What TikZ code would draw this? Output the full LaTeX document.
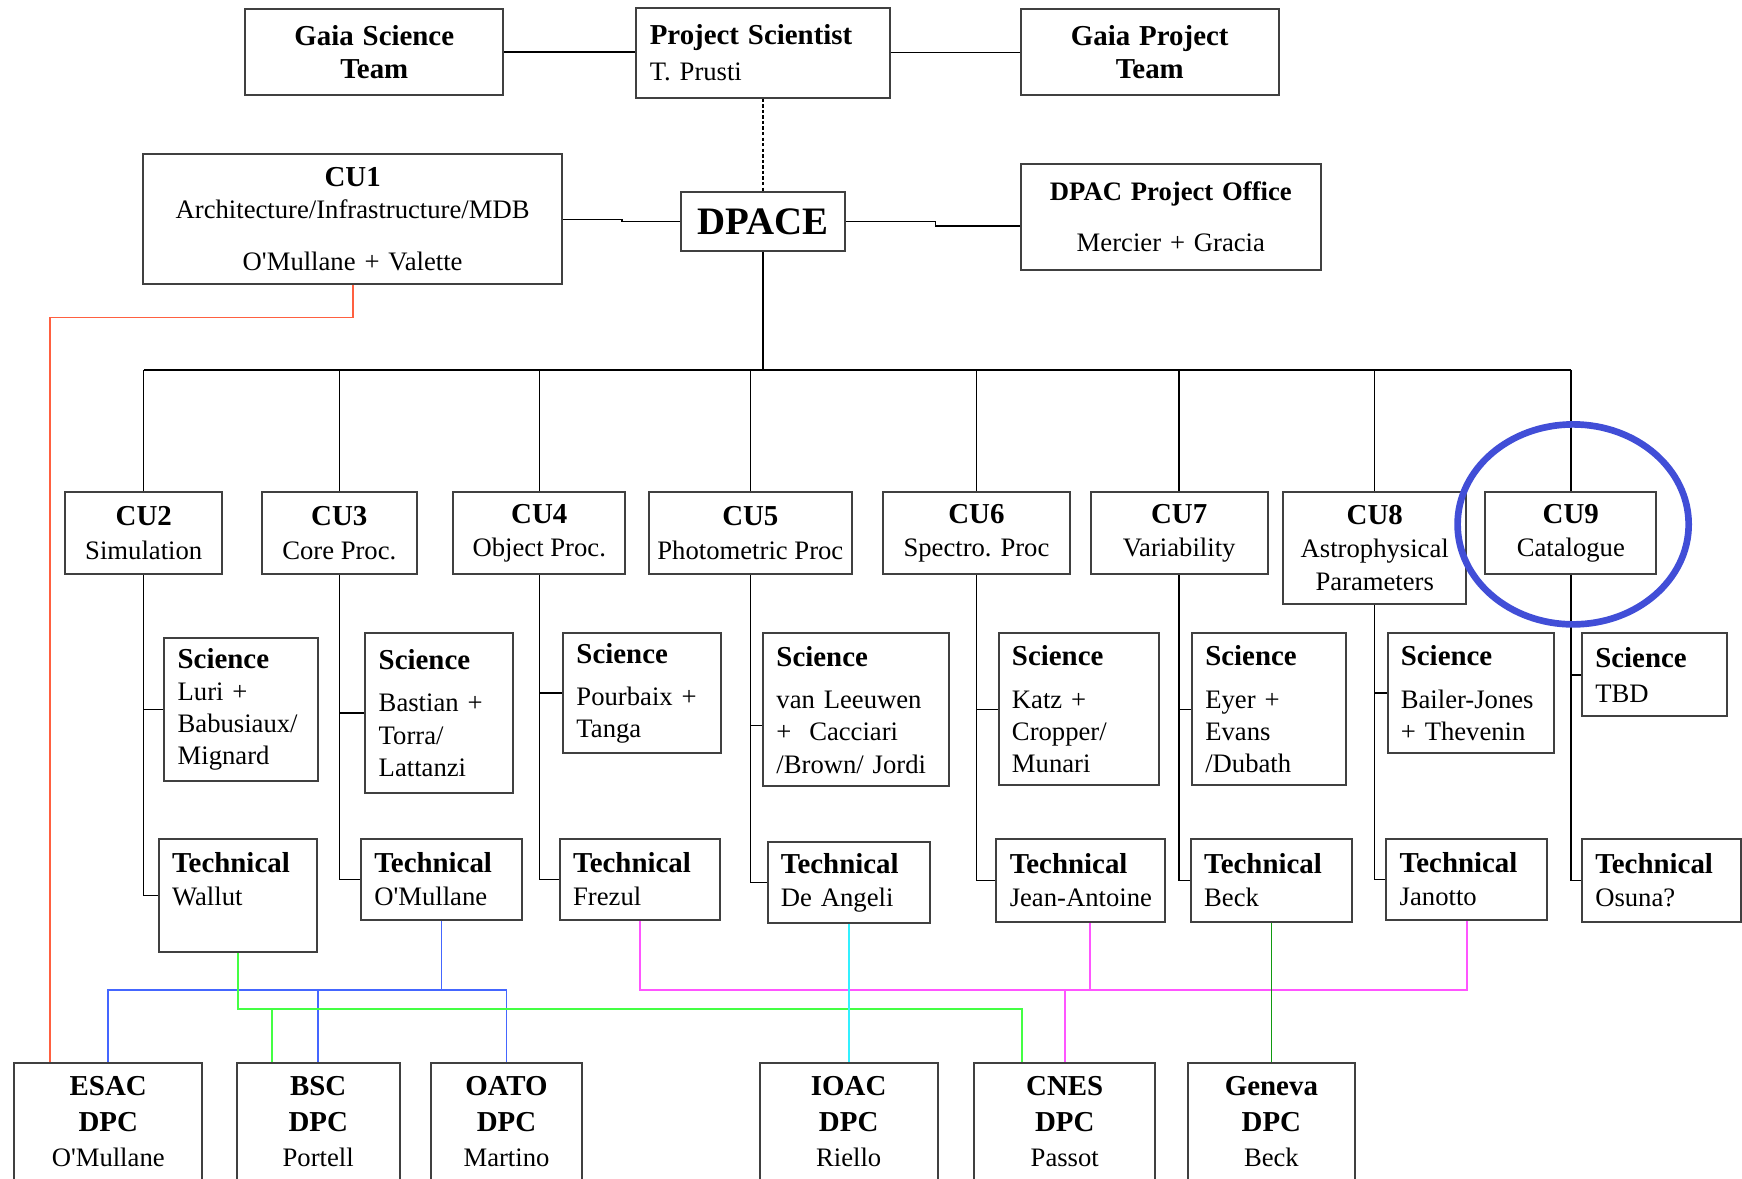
\documentclass[tikz,border=0pt]{standalone}
\usepackage{fontspec}
\setmainfont{Liberation Serif}

\definecolor{redline}{RGB}{255,96,64}
\definecolor{blueline}{RGB}{68,102,255}
\definecolor{greenline}{RGB}{68,255,68}
\definecolor{magline}{RGB}{255,85,255}
\definecolor{cyanline}{RGB}{51,240,255}
\definecolor{dkgreen}{RGB}{17,153,17}
\definecolor{ringblue}{RGB}{65,78,215}

\newcommand{\hdr}[1]{{\fontsize{26}{30}\selectfont\bfseries #1}}

\begin{document}
\begin{tikzpicture}[x=1pt, y=-1pt,
    every node/.style={font=\fontsize{24}{29}\selectfont},
    box/.style={draw=black!75, line width=1.8pt, anchor=north west, inner xsep=12pt, inner ysep=4pt, align=left},
    cbox/.style={box, align=center},
    cubox/.style={draw=black!75, line width=1.8pt, anchor=north west, inner xsep=3pt, inner ysep=4pt, align=center, minimum height=74pt, font=\fontsize{24}{30}\selectfont},
    dpcbox/.style={draw=black!75, line width=1.8pt, anchor=north west, inner xsep=3pt, inner ysep=12pt, align=center, text depth=40pt, font=\fontsize{24}{32}\selectfont},
    link/.style={line width=1.3pt},
    wire/.style={line width=1.6pt}]
    \useasboundingbox (0,0) rectangle (1568,1061);
    \clip (0,0) rectangle (1568,1061);

    % --- TOP: science team, project scientist, project team ---
    \node[cbox, text width=208pt, minimum height=78pt] (gst) at (220,7) {\hdr{Gaia Science}\\\hdr{Team}};
    \node[box, text width=204pt, minimum height=81pt] (ps) at (572,6) {\hdr{Project Scientist}\\[3pt]T. Prusti};
    \node[cbox, text width=208pt, minimum height=78pt] (gpt) at (918,7) {\hdr{Gaia Project}\\\hdr{Team}};
    \draw[link] (gst.east) -- (gst.east -| ps.west);
    \draw[link] (ps.east) -- (ps.east -| gpt.west);

    % --- DPACE row ---
    \node[cbox, text width=353pt, minimum height=117pt] (cu1) at (128,138) {\hdr{CU1}\\Architecture/Infrastructure/MDB\\[18pt]O\textquotesingle Mullane + Valette};
    \node[draw=black!75, line width=1.8pt, anchor=north west, minimum width=148pt, minimum height=53pt, inner sep=2pt, font=\fontsize{35}{40}\selectfont\bfseries] (dpace) at (612,172) {DPACE};
    \node[cbox, text width=246pt, minimum height=95pt] (dpo) at (918,147) {{\bfseries DPAC Project Office}\\[17pt]Mercier + Gracia};
    \coordinate (dpo-in) at ([yshift=-8pt]dpo.west);
    \draw[link, dash pattern=on 3pt off 2pt] (ps.south) -- (dpace.north);
    \draw[link] (cu1.east) -- ++(53,0) |- (dpace.west);
    \draw[link] (dpace.east) -- ++(80,0) |- (dpo-in);

    % --- coordination units ---
    \node[cubox, minimum width=141pt] (cu2) at (58,442) {\hdr{CU2}\\Simulation};
    \node[cubox, minimum width=139pt] (cu3) at (235,442) {\hdr{CU3}\\Core Proc.};
    \node[cubox, minimum width=155pt] (cu4) at (407,442) {\hdr{CU4}\\Object Proc.};
    \node[cubox, minimum width=183pt] (cu5) at (583,442) {\hdr{CU5}\\Photometric Proc};
    \node[cubox, minimum width=168pt] (cu6) at (794,442) {\hdr{CU6}\\Spectro. Proc};
    \node[cubox, minimum width=159pt] (cu7) at (981,442) {\hdr{CU7}\\Variability};
    \node[cubox, minimum width=165pt, minimum height=101pt] (cu8) at (1154,442) {\hdr{CU8}\\Astrophysical\\Parameters};
    \node[cubox, minimum width=154pt] (cu9) at (1336,442) {\hdr{CU9}\\Catalogue};

    \coordinate (bus) at (0,333);
    \draw[link] (dpace.south) -- (dpace.south |- bus);
    \draw[link] (cu2.north |- bus) -- (cu9.north |- bus);
    \foreach \i in {2,...,9} \draw[link] (cu\i.north |- bus) -- (cu\i.north);

    % --- science leads ---
    \node[box, text width=114pt, minimum height=129pt] (s2) at (147,573) {\hdr{Science}\\Luri +\\Babusiaux/\\Mignard};
    \node[box, text width=109pt, minimum height=144pt] (s3) at (328,569) {\hdr{Science}\\[9pt]Bastian +\\Torra/\\Lattanzi};
    \node[box, text width=118pt, minimum height=108pt] (s4) at (506,569) {\hdr{Science}\\[9pt]Pourbaix +\\Tanga};
    \node[box, text width=143pt, minimum height=138pt] (s5) at (686,569) {\hdr{Science}\\[9pt]van Leeuwen\\+\ \ Cacciari\\/Brown/ Jordi};
    \node[box, text width=120pt, minimum height=137pt] (s6) at (898,569) {\hdr{Science}\\[9pt]Katz +\\Cropper/\\Munari};
    \node[box, text width=115pt, minimum height=137pt] (s7) at (1072,569) {\hdr{Science}\\[9pt]Eyer +\\Evans\\/Dubath};
    \node[box, text width=126pt, minimum height=108pt] (s8) at (1248,569) {\hdr{Science}\\[9pt]\mbox{Bailer-Jones}\\+ Thevenin};
    \node[box, text width=107pt, minimum height=75pt] (s9) at (1423,569) {\hdr{Science}\\[3pt]TBD};

    % --- technical leads ---
    \node[box, text width=118pt, minimum height=102pt] (t2) at (142,754) {\hdr{Technical}\\[1pt]Wallut\\\mbox{}};
    \node[box, text width=121pt, minimum height=73pt] (t3) at (324,754) {\hdr{Technical}\\[1pt]O\textquotesingle Mullane};
    \node[box, text width=120pt, minimum height=73pt] (t4) at (503,754) {\hdr{Technical}\\[1pt]Frezul};
    \node[box, text width=122pt, minimum height=73pt] (t5) at (690,757) {\hdr{Technical}\\[1pt]De Angeli};
    \node[box, text width=128pt, minimum height=75pt] (t6) at (896,754) {\hdr{Technical}\\[1pt]\mbox{Jean-Antoine}};
    \node[box, text width=121pt, minimum height=75pt] (t7) at (1071,754) {\hdr{Technical}\\[1pt]Beck};
    \node[box, text width=121pt, minimum height=73pt] (t8) at (1247,754) {\hdr{Technical}\\[1pt]Janotto};
    \node[box, text width=119pt, minimum height=75pt] (t9) at (1423,754) {\hdr{Technical}\\[1pt]Osuna?};

    \coordinate (s5-in) at ([yshift=-14pt]s5.west);
    \foreach \i in {2,...,9} \draw[link] (cu\i.south) |- (t\i.west);
    \foreach \i in {2,3,4,6,7,8,9} \draw[link] (cu\i.south |- s\i.west) -- (s\i.west);
    \draw[link] (cu5.south |- s5-in) -- (s5-in);

    % --- data processing centres ---
    \node[dpcbox, minimum width=169pt] (esac) at (12,956) {\hdr{ESAC}\\\hdr{DPC}\\O\textquotesingle Mullane};
    \node[dpcbox, minimum width=147pt] (bsc) at (212,956) {\hdr{BSC}\\\hdr{DPC}\\Portell};
    \node[dpcbox, minimum width=136pt] (oato) at (387,956) {\hdr{OATO}\\\hdr{DPC}\\Martino};
    \node[dpcbox, minimum width=160pt] (ioac) at (683,956) {\hdr{IOAC}\\\hdr{DPC}\\Riello};
    \node[dpcbox, minimum width=163pt] (cnes) at (876,956) {\hdr{CNES}\\\hdr{DPC}\\Passot};
    \node[dpcbox, minimum width=151pt] (geneva) at (1068,956) {\hdr{Geneva}\\\hdr{DPC}\\Beck};

    % --- coloured links CU -> DPC ---
    \coordinate (bbus) at (0,891);
    \coordinate (gbus) at (0,908);
    \coordinate (esac-r) at ([xshift=33pt]esac.north west);
    \coordinate (bsc-g) at ([xshift=33pt]bsc.north west);
    \coordinate (cnes-g) at ([xshift=44pt]cnes.north west);
    \coordinate (t6-m) at ([xshift=8pt]t6.south);

    \draw[wire, redline] (cu1.south) -- ++(0,29) -| (esac-r);
    \draw[wire, blueline] (t3.south) -- (t3.south |- bbus);
    \draw[wire, blueline] (esac.north) |- (oato.north |- bbus) -- (oato.north);
    \draw[wire, blueline] (bsc.north |- bbus) -- (bsc.north);
    \draw[wire, greenline] (t2.south) |- (cnes-g |- gbus) -- (cnes-g);
    \draw[wire, greenline] (bsc-g |- gbus) -- (bsc-g);
    \draw[wire, magline] (t4.south) |- (t8.south |- bbus) -- (t8.south);
    \draw[wire, magline] (t6-m) -- (t6-m |- bbus);
    \draw[wire, magline] (cnes.north |- bbus) -- (cnes.north);
    \draw[wire, cyanline] (t5.south) -- (t5.south |- ioac.north);
    \draw[wire, dkgreen] (t7.south) -- (t7.south |- geneva.north);

    % ring round CU9
    \draw[ringblue, line width=6pt] (1416,472) ellipse [x radius=104, y radius=90];
\end{tikzpicture}
\end{document}
